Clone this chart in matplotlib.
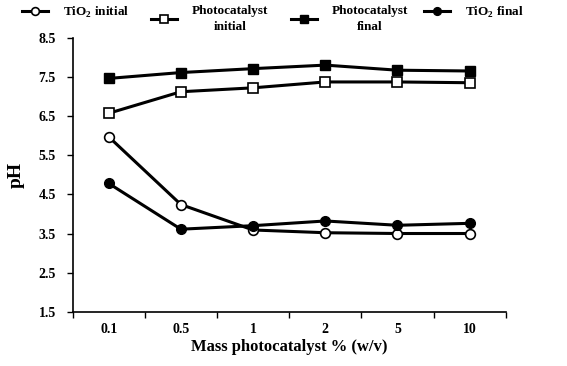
import matplotlib
matplotlib.use("Agg")
import matplotlib.pyplot as plt
import numpy as np

plt.rcParams['font.family'] = ['Liberation Serif', 'DejaVu Serif']
plt.rcParams['font.weight'] = 'bold'
plt.rcParams['mathtext.fontset'] = 'custom'
plt.rcParams['mathtext.rm'] = 'Liberation Serif:bold'
plt.rcParams['mathtext.bf'] = 'Liberation Serif:bold'

categories = ['0.1', '0.5', '1', '2', '5', '10']
tio2_initial = [5.97, 4.24, 3.59, 3.52, 3.50, 3.50]
photo_initial = [6.57, 7.12, 7.22, 7.37, 7.37, 7.35]
photo_final = [7.46, 7.61, 7.71, 7.80, 7.67, 7.65]
tio2_final = [4.78, 3.61, 3.70, 3.82, 3.71, 3.76]
yticks = [1.5, 2.5, 3.5, 4.5, 5.5, 6.5, 7.5, 8.5]

W, H = 567, 366
fig = plt.figure(figsize=(W / 100, H / 100), dpi=100)
ax = fig.add_axes([0.128, 0.148, 0.764, 0.749])
x = np.arange(len(categories))
lw = 2.2
ms = 7
h1, = ax.plot(x, tio2_initial, '-o', color='black', lw=lw, ms=ms, mfc='white', mec='black', mew=1.2, label='TiO$_2$ initial', zorder=3)
h2, = ax.plot(x, photo_initial, '-s', color='black', lw=lw, ms=ms, mfc='white', mec='black', mew=1.2, label='Photocatalyst\ninitial', zorder=3)
h3, = ax.plot(x, photo_final, '-s', color='black', lw=lw, ms=ms, mfc='black', mec='black', label='Photocatalyst\nfinal', zorder=3)
h4, = ax.plot(x, tio2_final, '-o', color='black', lw=lw, ms=ms, mfc='black', mec='black', label='TiO$_2$ final', zorder=3)

ax.set_xlim(-0.5, len(categories) - 0.5)
ax.set_ylim(1.5, 8.5)
ax.set_yticks(yticks)
ax.set_yticklabels([f'{v:.1f}' for v in yticks], fontsize=10, fontweight='bold')
ax.set_xticks(x)
ax.set_xticklabels(categories, fontsize=10, fontweight='bold')
ax.tick_params(axis='x', which='major', length=0, pad=8)
ax.set_xticks(np.arange(-0.5, len(categories)), minor=True)
ax.tick_params(axis='x', which='minor', length=4, direction='out', width=1)
ax.tick_params(axis='y', length=4, width=1, direction='out', pad=8)
for s in ['top', 'right']:
    ax.spines[s].set_visible(False)
for s in ['left', 'bottom']:
    ax.spines[s].set_linewidth(1.2)

ax.set_xlabel('Mass photocatalyst % (w/v)', fontsize=12, fontweight='bold', labelpad=2)
ax.set_ylabel('pH', fontsize=14, fontweight='bold', labelpad=10)

for h, xp in zip([h1, h2, h3, h4], [22, 151, 291, 424]):
    leg = fig.legend(handles=[h], loc='upper left', bbox_to_anchor=(xp / W, 1 - 5 / H),
                     frameon=False, borderpad=0, borderaxespad=0,
                     handlelength=2.0, handletextpad=1.1, markerscale=0.8,
                     prop={'weight': 'bold', 'size': 9.5})
    for t in leg.get_texts():
        t.set_multialignment('center')
        t.set_linespacing(1.45)

fig.savefig('out.png', dpi=100)
